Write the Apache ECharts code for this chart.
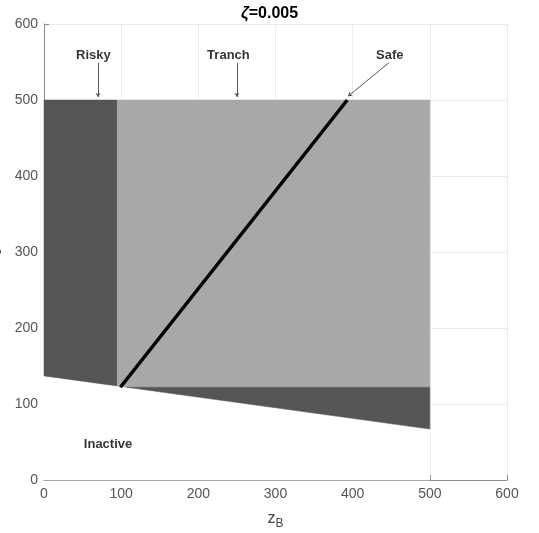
<!DOCTYPE html>
<html>
<head>
<meta charset="utf-8">
<script src="https://cdn.jsdelivr.net/npm/echarts@6/dist/echarts.min.js"></script>
<style>html,body{margin:0;padding:0;background:#fff;}#c{width:539px;height:533px;}</style>
</head>
<body>
<div id="c"></div>
<script>
// Axis ticks
const xTicks = [0, 100, 200, 300, 400, 500, 600];
const yTicks = [0, 100, 200, 300, 400, 500, 600];

// Regions (z_B, c) polygons
const inactiveRegion = [[0, 0], [0, 137], [500, 67], [500, 0]];
const riskyRegion = [[0, 137], [0, 500], [95, 500], [95, 123.7]];
const tranchRegion = [[95, 123.7], [95, 500], [500, 500], [500, 122], [107, 122]];
const lowerRiskyRegion = [[107, 122], [500, 122], [500, 67]];

// Safe boundary line
const safeLine = [[99, 122], [393, 500]];

// Annotations
const annNames = ['Risky', 'Tranch', 'Safe'];
const annText = [[64, 558], [239, 558], [448, 558]];
const annTail = [[70, 549], [250, 549], [447, 549]];
const annTip = [[70, 504], [250, 504], [394, 505]];
const inactiveLabel = ['Inactive', [83, 47]];

function polySeries(pts, color, z) {
  return {
    type: 'custom',
    z: z,
    silent: true,
    data: [[pts[0][0], pts[0][1]]],
    renderItem: function (params, api) {
      const points = pts.map(p => api.coord(p));
      return { type: 'polygon', shape: { points: points }, style: { fill: color, stroke: color, lineWidth: 0.5 } };
    }
  };
}

const chart = echarts.init(document.getElementById('c'));
const labelFont = 'Liberation Sans, Arial, sans-serif';
chart.setOption({
  animation: false,
  backgroundColor: '#fff',
  title: {
    text: '{a|ζ}{b|=0.005}',
    left: 'center',
    top: 1,
    textStyle: {
      rich: {
        a: { fontFamily: labelFont, fontStyle: 'italic', fontSize: 16, color: '#000' },
        b: { fontFamily: labelFont, fontWeight: 'bold', fontSize: 16, color: '#000' }
      }
    }
  },
  grid: { left: 44, right: 32, top: 24, bottom: 53, containLabel: false, outerBoundsMode: 'none' },
  xAxis: {
    type: 'value', min: 0, max: 600, interval: 100,
    name: '{z|z}{s|B}',
    nameLocation: 'middle', nameGap: 28,
    nameTextStyle: { rich: { z: { fontFamily: labelFont, fontSize: 16, color: '#444' }, s: { fontFamily: labelFont, fontSize: 12, color: '#444', padding: [10, 0, 0, 0] } } },
    axisLine: { lineStyle: { color: '#8a8a8a', width: 1 } },
    axisTick: { inside: true, length: 5, lineStyle: { color: '#8a8a8a' } },
    axisLabel: { fontFamily: labelFont, fontSize: 14, color: '#555', margin: 7 },
    splitLine: { show: true, lineStyle: { color: '#ebebeb', width: 1 } }
  },
  yAxis: {
    type: 'value', min: 0, max: 600, interval: 100,
    name: 'c', nameLocation: 'middle', nameGap: 39, nameRotate: 90,
    nameTextStyle: { fontFamily: labelFont, fontSize: 14, color: '#444' },
    axisLine: { show: true, lineStyle: { color: '#8a8a8a', width: 1 } },
    axisTick: { show: true, inside: true, length: 5, lineStyle: { color: '#8a8a8a' } },
    axisLabel: { fontFamily: labelFont, fontSize: 14, color: '#555', margin: 6 },
    splitLine: { show: true, lineStyle: { color: '#ebebeb', width: 1 } }
  },
  series: [
    polySeries(inactiveRegion, '#ffffff', 1),
    polySeries(riskyRegion, '#555555', 2),
    polySeries(tranchRegion, '#a8a8a8', 2),
    polySeries(lowerRiskyRegion, '#555555', 2),
    {
      type: 'line', z: 5, data: safeLine, symbol: 'none', silent: true,
      lineStyle: { color: '#000', width: 3.5 }
    },
    {
      type: 'lines', coordinateSystem: 'cartesian2d', z: 6, silent: true,
      symbol: ['none', 'arrow'], symbolSize: 4,
      lineStyle: { color: '#555', width: 1, opacity: 1 },
      data: annTail.map((t, i) => ({ coords: [t, annTip[i]] }))
    },
    {
      type: 'scatter', z: 7, symbolSize: 0, silent: true,
      data: annText.map((p, i) => ({ value: p, name: annNames[i] })).concat([{ value: inactiveLabel[1], name: inactiveLabel[0] }]),
      label: {
        show: true, position: 'inside', formatter: '{b}',
        fontFamily: labelFont, fontWeight: 'bold', fontSize: 13, color: '#000'
      }
    }
  ]
});
</script>
</body>
</html>
